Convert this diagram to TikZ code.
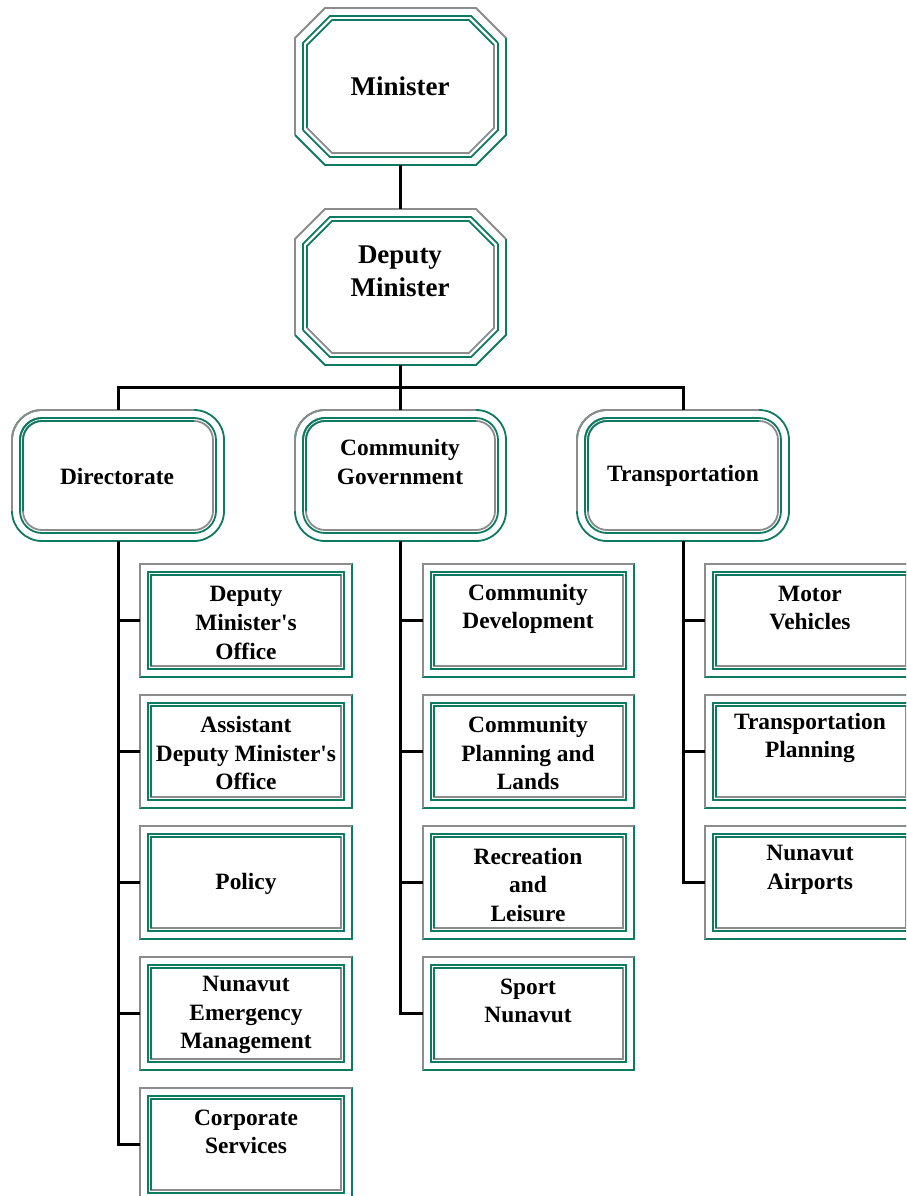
\documentclass[tikz,border=0pt]{standalone}
\usepackage{fontspec}
\setmainfont{Liberation Serif}[Ligatures=TeXOff]
\definecolor{fgreen}{RGB}{14,122,98}
\definecolor{fgray}{RGB}{140,140,140}
\newcommand\rframe[5]{%
  \foreach \ins/\ctl/\cbr in {0/fgray/fgreen, 8/fgreen/fgreen, 11/fgreen/fgray}{
    \pgfmathsetmacro\rr{max(#1-\ins,0.01)}
    \draw[\cbr, line width=1.8, rounded corners=\rr] (#2+\ins,#3+\ins) rectangle (#4-\ins,#5-\ins);
    \draw[\ctl, line width=1.8, rounded corners=\rr] (#2+\ins,#5-\ins-\rr) -- (#2+\ins,#3+\ins) -- (#4-\ins-\rr,#3+\ins);
  }}
\newcommand\oframe[5]{%
  \foreach \ins/\ctl/\cbr in {0/fgray/fgreen, 8/fgreen/fgreen, 12/fgreen/fgray}{
    \pgfmathsetmacro\cc{#1-0.4*\ins}
    \draw[\ctl, line width=1.8] (#2+\ins,#5-\ins-\cc) -- (#2+\ins,#3+\ins+\cc) -- (#2+\ins+\cc,#3+\ins) -- (#4-\ins-\cc,#3+\ins) -- (#4-\ins,#3+\ins+\cc);
    \draw[\cbr, line width=1.8] (#4-\ins,#3+\ins+\cc) -- (#4-\ins,#5-\ins-\cc) -- (#4-\ins-\cc,#5-\ins) -- (#2+\ins+\cc,#5-\ins) -- (#2+\ins,#5-\ins-\cc);
  }}
\tikzset{
  box/.style={rectangle, inner sep=0pt, minimum width=#1},
  bigtxt/.style={align=center, inner sep=0pt, font=\fontsize{27}{33}\selectfont\bfseries},
  txt/.style={align=center, inner sep=0pt, font=\fontsize{23.4}{28.7}\selectfont\bfseries},
  conn/.style={line width=3pt, black}
}
\begin{document}
\begin{tikzpicture}[x=1pt,y=-1pt]
\useasboundingbox (0,0) rectangle (906,1196);
\clip (0,0) rectangle (906,1196);
\fill[white] (0,0) rectangle (906,1196);
% frames
\oframe{30}{295}{8}{506}{165}
\oframe{30}{295}{209}{506}{365}
\rframe{30}{12}{410}{224}{541}
\rframe{30}{295}{410}{506}{541}
\rframe{30}{577}{410}{789}{541}
\foreach \yy in {564,695,826,957,1088}{
  \rframe{0}{140}{\yy}{352}{\yy+113}
}
\foreach \yy in {564,695,826,957}{
  \rframe{0}{423}{\yy}{634}{\yy+113}
}
\foreach \yy in {564,695,826}{
  \rframe{0}{705}{\yy}{917}{\yy+113}
}
% box nodes
\node[box=211, minimum height=157] (m) at (400.5,86.5) {};
\node[box=211, minimum height=156] (dm) at (400.5,287) {};
\node[box=212, minimum height=131] (dir) at (118,475.5) {};
\node[box=211, minimum height=131] (cg) at (400.5,475.5) {};
\node[box=212, minimum height=131] (tr) at (683,475.5) {};
\node[box=212, minimum height=113] (d1) at (246,620.5) {};
\node[box=212, minimum height=113] (d2) at (246,751.5) {};
\node[box=212, minimum height=113] (d3) at (246,882.5) {};
\node[box=212, minimum height=113] (d4) at (246,1013.5) {};
\node[box=212, minimum height=113] (d5) at (246,1144.5) {};
\node[box=211, minimum height=113] (c1) at (528.5,620.5) {};
\node[box=211, minimum height=113] (c2) at (528.5,751.5) {};
\node[box=211, minimum height=113] (c3) at (528.5,882.5) {};
\node[box=211, minimum height=113] (c4) at (528.5,1013.5) {};
\node[box=212, minimum height=113] (t1) at (811,620.5) {};
\node[box=212, minimum height=113] (t2) at (811,751.5) {};
\node[box=212, minimum height=113] (t3) at (811,882.5) {};
% texts
\node[bigtxt] (mt) at (400,86) {Minister};
\node[bigtxt] (dmt) at (400,271) {Deputy\\Minister};
\node[txt] (dirt) at (117,476) {Directorate};
\node[txt] (cgt) at (400,462) {Community\\Government};
\node[txt] (trt) at (683,476) {Transportation};
\node[txt] (d1t) at (246,623) {Deputy\\Minister's\\Office};
\node[txt] (d2t) at (246,753) {Assistant\\Deputy Minister's\\Office};
\node[txt] (d3t) at (246,884) {Policy};
\node[txt] (d4t) at (246,1015) {Nunavut\\Emergency\\Management};
\node[txt] (d5t) at (246,1132) {Corporate\\Services};
\node[txt] (c1t) at (528,609) {Community\\Development};
\node[txt] (c2t) at (528,753) {Community\\Planning and\\Lands};
\node[txt] (c3t) at (528,885) {Recreation\\and\\Leisure};
\node[txt] (c4t) at (528,1001) {Sport\\Nunavut};
\node[txt] (t1t) at (810,608) {Motor\\Vehicles};
\node[txt] (t2t) at (810,738) {Transportation\\Planning};
\node[txt] (t3t) at (810,870) {Nunavut\\Airports};
% connectors
\coordinate (bus) at (400.5,387);
\draw[conn] (m.south) -- (dm.north);
\draw[conn] (dm.south) -- (bus);
\draw[conn] (dir.north) |- (bus) -| (tr.north);
\draw[conn] (bus) -- (cg.north);
\draw[conn] (dir.south) |- (d5.west);
\foreach \n in {d1,d2,d3,d4}{\draw[conn] (dir.south |- \n.west) -- (\n.west);}
\draw[conn] (cg.south) |- (c4.west);
\foreach \n in {c1,c2,c3}{\draw[conn] (cg.south |- \n.west) -- (\n.west);}
\draw[conn] (tr.south) |- (t3.west);
\foreach \n in {t1,t2}{\draw[conn] (tr.south |- \n.west) -- (\n.west);}
\end{tikzpicture}
\end{document}
